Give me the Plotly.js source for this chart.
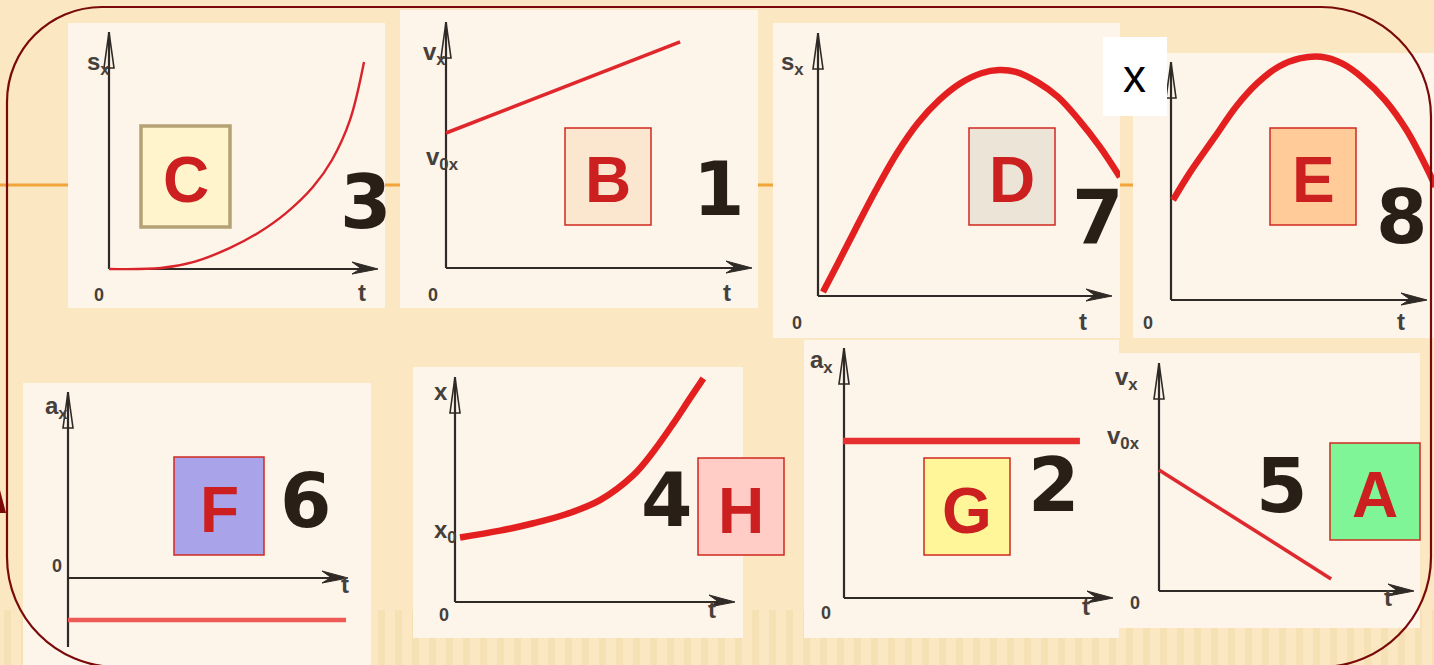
<!DOCTYPE html>
<html><head><meta charset="utf-8">
<script src="https://cdn.plot.ly/plotly-3.0.1.min.js"></script>
<style>html,body{margin:0;padding:0;background:#FBE7C1;overflow:hidden}</style>
</head><body><div id="chart" style="width:1434px;height:665px"></div>
<script>
// ---------- values ----------
// every small graph uses units where 0..10 is the length of its drawn axis
const letters     = ['C','B','D','E','F','H','G','A'];
const numbers     = ['3','1','7','8','6','4','2','5'];
const yAxisNames  = ['s<sub>x</sub>','v<sub>x</sub>','s<sub>x</sub>','','a<sub>x</sub>','x','a<sub>x</sub>','v<sub>x</sub>'];
const startNames  = ['','v<sub>0x</sub>','','','','x<sub>0</sub>','','v<sub>0x</sub>'];
const originNames = ['0','0','0','0','0','0','0','0'];
const timeNames   = ['t','t','t','t','t','t','t','t'];

const tC = [0, 1.93, 3.16, 4.50, 5.54, 6.58, 7.58, 8.29, 8.96, 9.48];
const sC = [0, 0.04, 0.30, 0.89, 1.52, 2.36, 3.46, 4.60, 6.29, 8.73];
const tB = [0, 7.65];
const vB = [5.49, 9.19];
const tD = [0.17, 0.68, 1.26, 1.97, 2.69, 3.40, 4.12, 4.86, 5.58, 6.16, 6.73, 7.45, 8.16, 8.88, 9.59, 10.27];
const sD = [0.15, 1.25, 2.51, 4.03, 5.44, 6.58, 7.45, 8.10, 8.48, 8.59, 8.52, 8.14, 7.57, 6.69, 5.67, 4.52];
const tE = [0.08, 0.72, 1.72, 2.54, 3.36, 4.20, 5.03, 5.86, 6.68, 7.50, 8.36, 9.20, 10.03, 10.33];
const xE = [4.20, 5.32, 6.86, 8.12, 9.10, 9.80, 10.15, 10.22, 9.94, 9.32, 8.40, 7.14, 5.46, 4.76];
const tF = [0, 9.93];
const aF = [-2.26, -2.26];
const tH = [0.18, 1.61, 2.80, 3.99, 5.18, 6.37, 7.08, 7.80, 8.39, 8.87];
const xH = [2.87, 3.17, 3.50, 3.91, 4.53, 5.64, 6.68, 7.94, 9.05, 9.94];
const tG = [-0.04, 8.77];
const aG = [6.28, 6.28];
const tA = [0, 6.75];
const vA = [5.31, 0.53];

const seriesT = [tC, tB, tD, tE, tF, tH, tG, tA];
const seriesY = [sC, vB, sD, xE, aF, xH, aG, vA];

// ---------- layout / style (pixels on the 1434x665 page) ----------
const W = 1434, H = 665;
const X = v => v / W;
const Y = v => 1 - v / H;

const panels = [
 {rect:[68,23,385,308],  o:[109,269], tip:[378,32],  yb:269, w:2.4, col:'#D9232B', spline:true,
  lab:{y:[85,46], zero:[92,295], t:[356,293]}, box:[141,126,230,227], fill:'#FFF4CC', edge:'#B4A275', ew:3.5, num:[366,197]},
 {rect:[400,10,758,308], o:[446,268], tip:[752,22],  yb:268, w:3.6, col:'#E0272B', spline:false,
  lab:{y:[421,36], s:[424,141], zero:[426,295], t:[727,293]}, box:[565,128,651,225], fill:'#FBE6CF', edge:'#D0281F', ew:1.5, num:[719,184]},
 {rect:[773,23,1120,338], o:[818,296], tip:[1112,33], yb:296, w:6.5, col:'#E3201F', spline:true,
  lab:{y:[792,46], zero:[797,323], t:[1089,321]}, box:[969,128,1055,225], fill:'#EDE4D8', edge:'#D0281F', ew:1.5, num:[1098,212]},
 {rect:[1133,53,1434,338], o:[1171,300], tip:[1427,62], yb:300, w:6.5, col:'#E3201F', spline:true,
  lab:{zero:[1155,323], t:[1407,321]}, box:[1270,128,1356,225], fill:'#FFCC99', edge:'#D0281F', ew:1.5, num:[1402,212]},
 {rect:[23,383,371,665], o:[68,578], tip:[348,392], yb:647, w:4.5, col:'#EE5A55', spline:false,
  lab:{y:[43,407], zero:[50,578], t:[339,600]}, box:[174,457,264,555], fill:'#A9A3E9', edge:'#D0281F', ew:1.5, num:[306,496]},
 {rect:[413,367,743,638], o:[455,602], tip:[735,377], yb:602, w:6.5, col:'#E3201F', spline:true,
  lab:{y:[432,392], s:[432,549], zero:[437,627], t:[712,625]}, box:[698,458,784,555], fill:'#FFCCC6', edge:'#D0281F', ew:1.5, num:[667,495]},
 {rect:[804,340,1119,638], o:[844,598], tip:[1113,348], yb:598, w:6.5, col:'#E5302F', spline:false,
  lab:{y:[821,361], zero:[826,625], t:[1092,622]}, box:[924,458,1010,555], fill:'#FFF69A', edge:'#D0281F', ew:1.5, num:[1054,480]},
 {rect:[1119,353,1420,628], o:[1159,591], tip:[1414,363], yb:591, w:3.6, col:'#DE2A2E', spline:false,
  lab:{y:[1140,378], s:[1142,455], zero:[1142,615], t:[1394,613]}, box:[1330,443,1420,540], fill:'#80F598', edge:'#D0281F', ew:1.5, num:[1282,481]}
];

const AX = '#2F2A25';
const LABEL_FONT = {family:'Liberation Sans Narrow, Liberation Sans, Arial, sans-serif', size:24, color:'#45403B', weight:700};

const layout = {
  width:W, height:H, margin:{l:0,r:0,t:0,b:0},
  paper_bgcolor:'#FBE7C1', plot_bgcolor:'rgba(0,0,0,0)',
  showlegend:false, shapes:[], annotations:[]
};
const shapes = layout.shapes, ann = layout.annotations;

// faint background stripes along the bottom
for (let sx = 4; sx < W; sx += 17) {
  shapes.push({type:'rect', xref:'paper', yref:'paper', x0:X(sx), x1:X(sx + 7), y0:Y(665), y1:Y(610),
    fillcolor:'rgba(225,190,120,0.16)', line:{width:0}, layer:'below'});
}
// orange band and left mark
shapes.push({type:'line', xref:'paper', yref:'paper', x0:0, x1:1, y0:Y(185), y1:Y(185), line:{color:'#F2A43A', width:3}, layer:'below'});
shapes.push({type:'path', xref:'paper', yref:'paper', path:`M${X(0)},${Y(490)} L${X(6)},${Y(513)} L${X(0)},${Y(513)} Z`, fillcolor:'#7A0A0A', line:{width:0}, layer:'below'});

const traces = [];
panels.forEach((p, i) => {
  const n = i === 0 ? '' : String(i + 1);
  const sx = (p.tip[0] - p.o[0]) / 10, sy = (p.o[1] - p.tip[1]) / 10;
  layout['xaxis' + n] = {domain:[X(p.rect[0]), X(p.rect[2])],
    range:[(p.rect[0] - p.o[0]) / sx, (p.rect[2] - p.o[0]) / sx],
    visible:false, fixedrange:true, anchor:'y' + n};
  layout['yaxis' + n] = {domain:[Y(p.rect[3]), Y(p.rect[1])],
    range:[(p.o[1] - p.rect[3]) / sy, (p.o[1] - p.rect[1]) / sy],
    visible:false, fixedrange:true, anchor:'x' + n};

  // panel background
  shapes.push({type:'rect', xref:'paper', yref:'paper', x0:X(p.rect[0]), x1:X(p.rect[2]), y0:Y(p.rect[3]), y1:Y(p.rect[1]),
    fillcolor:'#FDF4EA', line:{width:0}, layer:'below'});
  // axes
  shapes.push({type:'line', xref:'paper', yref:'paper', x0:X(p.o[0]), x1:X(p.tip[0]-4), y0:Y(p.o[1]), y1:Y(p.o[1]), line:{color:AX, width:2.2}, layer:'below'});
  shapes.push({type:'line', xref:'paper', yref:'paper', x0:X(p.o[0]), x1:X(p.o[0]), y0:Y(p.yb), y1:Y(p.tip[1]), line:{color:AX, width:2.2}, layer:'below'});
  const tx = p.tip[0], oy = p.o[1];
  shapes.push({type:'path', xref:'paper', yref:'paper',
    path:`M${X(tx)},${Y(oy)} L${X(tx-26)},${Y(oy-7)} L${X(tx-17)},${Y(oy-0.5)} L${X(tx-26)},${Y(oy+5)} Z`,
    fillcolor:AX, line:{color:AX, width:1}, layer:'below'});
  const ox = p.o[0], ty = p.tip[1];
  shapes.push({type:'path', xref:'paper', yref:'paper',
    path:`M${X(ox)},${Y(ty)} L${X(ox-5)},${Y(ty+36)} L${X(ox+5)},${Y(ty+36)} Z`,
    fillcolor:'rgba(0,0,0,0)', line:{color:AX, width:1.6}, layer:'below'});

  // curve
  traces.push({x:seriesT[i], y:seriesY[i], xaxis:'x' + n, yaxis:'y' + n, mode:'lines',
    line:{color:p.col, width:p.w, shape:p.spline ? 'spline' : 'linear', smoothing:1}, hoverinfo:'skip'});

  // answer box
  shapes.push({type:'rect', xref:'paper', yref:'paper', x0:X(p.box[0]), x1:X(p.box[2]), y0:Y(p.box[3]), y1:Y(p.box[1]),
    fillcolor:p.fill, line:{color:p.edge, width:p.ew}, layer:'below'});
  ann.push({xref:'paper', yref:'paper', x:X((p.box[0]+p.box[2])/2), y:Y((p.box[1]+p.box[3])/2 + 4), text:letters[i], showarrow:false,
    xanchor:'center', yanchor:'middle', font:{family:'Liberation Sans, Arial, sans-serif', size:64, color:'#CC2020', weight:700}});
  ann.push({xref:'paper', yref:'paper', x:X(p.num[0]), y:Y(p.num[1] + 5), text:numbers[i], showarrow:false,
    xanchor:'center', yanchor:'middle', font:{family:'DejaVu Sans, sans-serif', size:74, color:'#2A1F17', weight:700}});

  // axis labels
  if (p.lab.y && yAxisNames[i]) ann.push({xref:'paper', yref:'paper', x:X(p.lab.y[0]), y:Y(p.lab.y[1]), text:yAxisNames[i], showarrow:false, font:LABEL_FONT});
  if (p.lab.s && startNames[i]) ann.push({xref:'paper', yref:'paper', x:X(p.lab.s[0]), y:Y(p.lab.s[1]), text:startNames[i], showarrow:false, font:LABEL_FONT});
  ann.push({xref:'paper', yref:'paper', x:X(p.lab.zero[0]), y:Y(p.lab.zero[1]), text:originNames[i], showarrow:false, font:Object.assign({}, LABEL_FONT, {size:18})});
  ann.push({xref:'paper', yref:'paper', x:X(p.lab.t[0]), y:Y(p.lab.t[1]), text:timeNames[i], showarrow:false, font:Object.assign({}, LABEL_FONT, {size:24})});
});

// white "x" tag
shapes.push({type:'rect', xref:'paper', yref:'paper', x0:X(1103), x1:X(1167), y0:Y(116), y1:Y(37), fillcolor:'#FFFFFF', line:{width:0}, layer:'below'});
ann.push({xref:'paper', yref:'paper', x:X(1134), y:Y(76), text:'x', showarrow:false, xanchor:'center', yanchor:'middle',
  font:{family:'Liberation Sans, Arial, sans-serif', size:46, color:'#000000'}});

// rounded frame
(function(){
  const L = 7, R = 1431, T = 7, B = 667, k = 0.5523;
  const rtl = 95, rtr = 110, rbr = 110, rbl = 110;
  const P = (x, y) => `${X(x)},${Y(y)}`;
  const path = `M${P(L+rtl,T)} L${P(R-rtr,T)} C${P(R-rtr+rtr*k,T)} ${P(R,T+rtr-rtr*k)} ${P(R,T+rtr)} ` +
    `L${P(R,B-rbr)} C${P(R,B-rbr+rbr*k)} ${P(R-rbr+rbr*k,B)} ${P(R-rbr,B)} ` +
    `L${P(L+rbl,B)} C${P(L+rbl-rbl*k,B)} ${P(L,B-rbl+rbl*k)} ${P(L,B-rbl)} ` +
    `L${P(L,T+rtl)} C${P(L,T+rtl-rtl*k)} ${P(L+rtl-rtl*k,T)} ${P(L+rtl,T)} Z`;
  shapes.push({type:'path', xref:'paper', yref:'paper', path:path, line:{color:'#7A0A0A', width:2.2}, fillcolor:'rgba(0,0,0,0)', layer:'above'});
})();

Plotly.newPlot('chart', traces, layout, {displayModeBar:false});
</script>
</body></html>
